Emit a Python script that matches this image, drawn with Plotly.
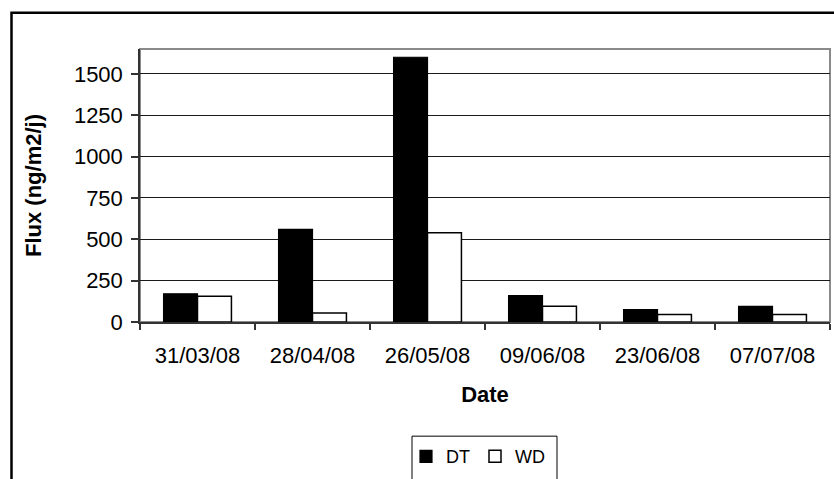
import plotly.graph_objects as go

# Sampling dates and measured fluxes (ng/m2/j)
dates = ["31/03/08", "28/04/08", "26/05/08", "09/06/08", "23/06/08", "07/07/08"]
dt_flux = [170, 560, 1600, 160, 75, 95]
wd_flux = [155, 55, 540, 95, 45, 45]
y_ticks = [0, 250, 500, 750, 1000, 1250, 1500]

W, H = 834, 479
L, R, T, B = 140, 4, 49, 155
pw, ph = W - L - R, H - T - B

def px_x(x):
    return (x - L) / pw

def px_y(y):
    return (H - B - y) / ph

FONT = "Liberation Sans, Arial, sans-serif"

fig = go.Figure()
fig.add_trace(go.Bar(
    x=dates, y=dt_flux, name="DT",
    marker=dict(color="black", line=dict(color="black", width=1.2)),
))
fig.add_trace(go.Bar(
    x=dates, y=wd_flux, name="WD",
    marker=dict(color="white", line=dict(color="black", width=1.5)),
))

shapes = [
    # gray plot-area frame
    dict(type="rect", xref="paper", yref="paper", x0=0, x1=1, y0=0, y1=1,
         line=dict(color="#8a8a8a", width=2), layer="below"),
    # outer chart frame (runs off the right and bottom edges)
    dict(type="rect", xref="paper", yref="paper",
         x0=px_x(11.5), x1=px_x(W + 40), y0=px_y(H + 40), y1=px_y(12.5),
         line=dict(color="black", width=2.5)),
    # legend box (runs off the bottom edge)
    dict(type="rect", xref="paper", yref="paper",
         x0=px_x(412), x1=px_x(557), y0=px_y(H + 40), y1=px_y(439),
         line=dict(color="black", width=1)),
]

fig.update_layout(
    width=W, height=H,
    margin=dict(l=L, r=R, t=T, b=B, pad=0),
    paper_bgcolor="white", plot_bgcolor="white",
    font=dict(family=FONT, color="black", size=20),
    barmode="group", bargap=0.41, bargroupgap=0,
    showlegend=True,
    legend=dict(orientation="h", x=px_x(406), xanchor="left",
                y=px_y(441), yanchor="top",
                font=dict(size=18, family=FONT),
                bgcolor="rgba(0,0,0,0)", borderwidth=0),
    shapes=shapes,
)

fig.update_xaxes(
    type="category", tickson="boundaries",
    ticks="outside", ticklen=6, tickcolor="#333333", tickwidth=1.5,
    showline=True, linecolor="#333333", linewidth=1.5,
    showgrid=False, tickfont=dict(size=22),
    ticklabelstandoff=13,
    title=dict(text="<b>Date</b>", font=dict(size=22), standoff=19),
)
fig.update_yaxes(
    range=[0, 1650], tickvals=y_ticks,
    ticks="outside", ticklen=7, tickcolor="#333333", tickwidth=1.5,
    showline=True, linecolor="#333333", linewidth=1.5,
    showgrid=True, gridcolor="#1a1a1a", gridwidth=1,
    zeroline=False, tickfont=dict(size=22),
    ticklabelstandoff=4,
    title=dict(text="<b>Flux (ng/m2/j)</b>", font=dict(size=22), standoff=26),
)

fig.write_html("out.html")
